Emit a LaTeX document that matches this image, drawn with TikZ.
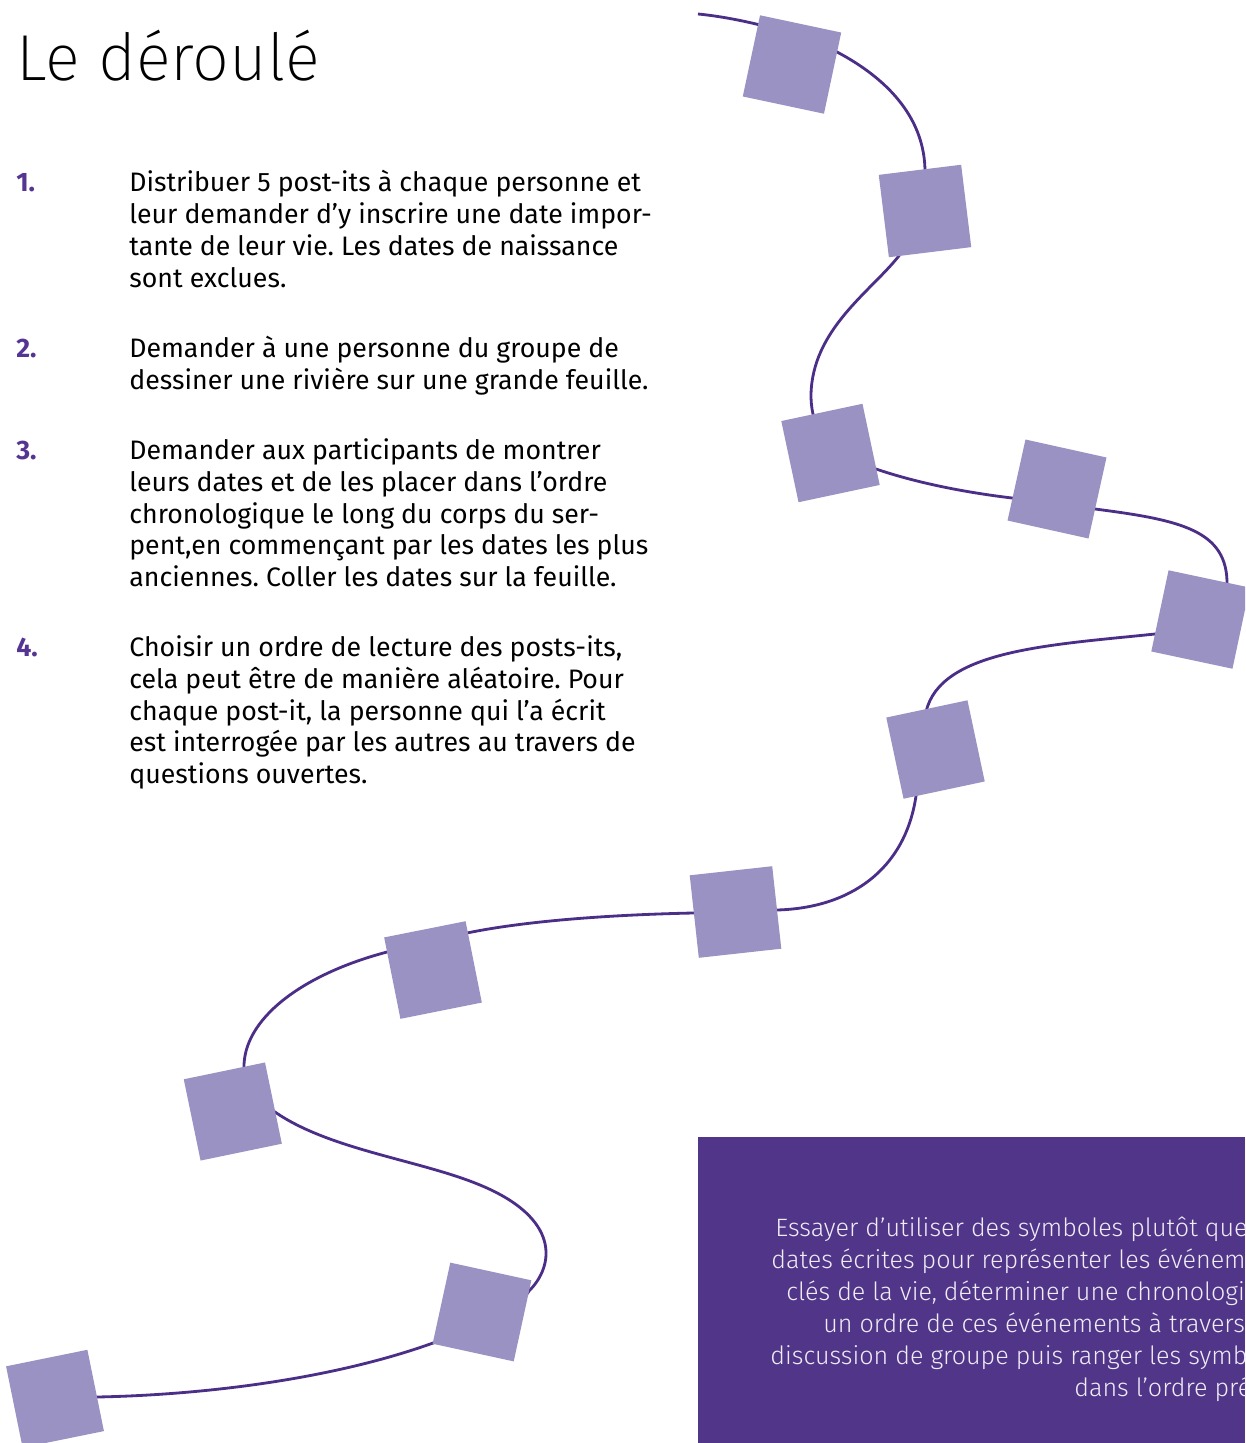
\documentclass[tikz,border=0pt]{standalone}
\usepackage{fontspec}
\setmainfont{Fira Sans}
\newfontfamily\firalight{Fira Sans Light}
\newfontfamily\firaxlight{Fira Sans ExtraLight}
\frenchspacing
\definecolor{sqc}{HTML}{9B92C4}
\definecolor{linec}{HTML}{4B2E87}
\definecolor{boxc}{HTML}{513589}
\definecolor{numc}{HTML}{553592}
\definecolor{boxtext}{HTML}{EFECF6}
\begin{document}
\begin{tikzpicture}[x=0.02cm,y=-0.02cm,
  sq/.style={fill=sqc, draw=none, minimum size=1.66cm, inner sep=0pt},
  curve/.style={draw=linec, line width=1.6pt},
  body/.style={anchor=base west, inner sep=0pt, font=\fontsize{15.2}{18}\selectfont},
  num/.style={anchor=base west, inner sep=0pt, text=numc, font=\fontsize{15.2}{18}\selectfont\bfseries},
  boxt/.style={anchor=base west, inner sep=0pt, text=boxtext, font=\firalight\fontsize{14.3}{18}\selectfont},
  title/.style={anchor=base west, inner sep=0pt, font=\firaxlight\fontsize{37}{44}\selectfont}]
\useasboundingbox (0,0) rectangle (1245,1443);
\clip (0,0) rectangle (1245,1443);
\fill[white] (0,0) rectangle (1245,1443);

% title
\node[title] (title) at (16,80.7) {Le déroulé};

% list
\node[num] (n1) at (16,191.7) {1.};
\node[body] (t11) at (129,191.7) {Distribuer 5 post-its à chaque personne et};
\node[body] (t12) at (129,223.5) {leur demander d’y inscrire une date impor-};
\node[body] (t13) at (129,255.3) {tante de leur vie. Les dates de naissance};
\node[body] (t14) at (129,287.1) {sont exclues.};

\node[num] (n2) at (16,357.5) {2.};
\node[body] (t21) at (129,357.5) {Demander à une personne du groupe de};
\node[body] (t22) at (129,389.3) {dessiner une rivière sur une grande feuille.};

\node[num] (n3) at (16,459.5) {3.};
\node[body] (t31) at (129,459.5) {Demander aux participants de montrer};
\node[body] (t32) at (129,491.3) {leurs dates et de les placer dans l’ordre};
\node[body] (t33) at (129,523.1) {chronologique le long du corps du ser-};
\node[body] (t34) at (129,554.9) {pent,en commençant par les dates les plus};
\node[body] (t35) at (129,586.7) {anciennes. Coller les dates sur la feuille.};

\node[num] (n4) at (16,656.5) {4.};
\node[body] (t41) at (129,656.5) {Choisir un ordre de lecture des posts-its,};
\node[body] (t42) at (129,688.3) {cela peut être de manière aléatoire. Pour};
\node[body] (t43) at (129,720.1) {chaque post-it, la personne qui l’a écrit};
\node[body] (t44) at (129,751.9) {est interrogée par les autres au travers de};
\node[body] (t45) at (129,783.7) {questions ouvertes.};

% river line
\draw[curve] (698,14) .. controls (740,18) and (800,33) .. (837,52)
  .. controls (890,80) and (925,120) .. (925,172)
  .. controls (925,215) and (915,235) .. (898,257)
  .. controls (870,292) and (812,330) .. (811,395)
  .. controls (811,440) and (840,458) .. (876,469)
  .. controls (920,484) and (970,493) .. (1012,498)
  .. controls (1040,502) and (1070,505) .. (1095,509)
  .. controls (1180,520) and (1228,530) .. (1227,585)
  .. controls (1226,620) and (1190,630) .. (1155,634)
  .. controls (1050,645) and (940,650) .. (926,712)
  .. controls (922,740) and (920,770) .. (916,796)
  .. controls (905,870) and (850,908) .. (777,910)
  .. controls (750,911) and (720,912) .. (693,913)
  .. controls (600,915) and (520,922) .. (467,933)
  .. controls (440,938) and (410,946) .. (387,952)
  .. controls (300,975) and (243,1020) .. (244,1068)
  .. controls (245,1090) and (258,1102) .. (275,1112)
  .. controls (330,1150) and (420,1160) .. (480,1185)
  .. controls (560,1218) and (555,1265) .. (529,1291)
  .. controls (510,1320) and (470,1335) .. (433,1343)
  .. controls (330,1380) and (200,1395) .. (97,1397)
  -- (60,1398);

% post-its
\node[sq, rotate=-12] (s1) at (792,64.5) {};
\node[sq, rotate=7] (s2) at (925,211) {};
\node[sq, rotate=12] (s3) at (830.5,453) {};
\node[sq, rotate=-12.5] (s4) at (1057,489) {};
\node[sq, rotate=-12] (s5) at (1200.5,619.5) {};
\node[sq, rotate=12] (s6) at (935.5,749.5) {};
\node[sq, rotate=6.3] (s7) at (735.5,912) {};
\node[sq, rotate=11.3] (s8) at (433,970) {};
\node[sq, rotate=11.7] (s9) at (232.8,1111.5) {};
\node[sq, rotate=-12.3] (s10) at (482,1312) {};
\node[sq, rotate=11.5] (s11) at (55,1398.7) {};

% tip box
\fill[boxc] (698,1137) rectangle (1245,1443);
\node[boxt] (b1) at (775,1236.7) {Essayer d’utiliser des symboles plutôt que des};
\node[boxt] (b2) at (771,1268.7) {dates écrites pour représenter les événements};
\node[boxt] (b3) at (786,1300.7) {clés de la vie, déterminer une chronologie et};
\node[boxt] (b4) at (823,1332.7) {un ordre de ces événements à travers une};
\node[boxt] (b5) at (770,1364.7) {discussion de groupe puis ranger les symboles};
\node[boxt] (b6) at (1074,1396.7) {dans l’ordre présenté.};
\end{tikzpicture}
\end{document}
